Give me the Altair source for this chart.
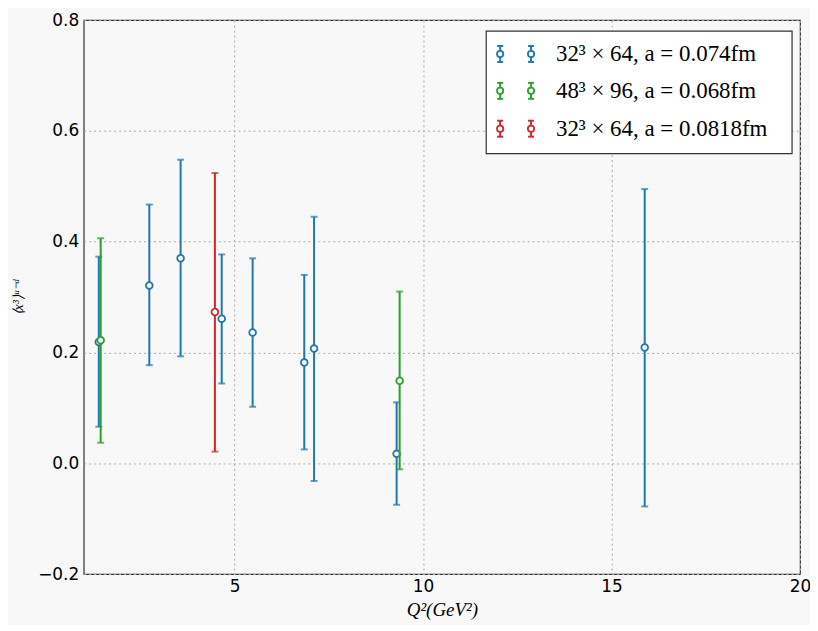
import altair as alt
import pandas as pd

# ---- data ----
series_names = ["32³ × 64, a = 0.074fm", "48³ × 96, a = 0.068fm", "32³ × 64, a = 0.0818fm"]
series_colors = ["#1f77b4", "#2ca02c", "#d62728"]

blue_q2 = [1.40, 2.74, 3.57, 4.66, 5.48, 6.85, 7.11, 9.30, 15.88]
blue_val = [0.219, 0.321, 0.370, 0.261, 0.236, 0.182, 0.207, 0.017, 0.209]
blue_lo = [0.066, 0.177, 0.193, 0.144, 0.102, 0.025, -0.032, -0.075, -0.078]
blue_hi = [0.373, 0.467, 0.548, 0.377, 0.370, 0.340, 0.445, 0.110, 0.495]

green_q2 = [1.45, 9.38]
green_val = [0.222, 0.149]
green_lo = [0.037, -0.011]
green_hi = [0.406, 0.310]

red_q2 = [4.48]
red_val = [0.273]
red_lo = [0.021]
red_hi = [0.524]

x_ticks = [5, 10, 15, 20]
y_ticks = [-0.2, 0.0, 0.2, 0.4, 0.6, 0.8]

rows = []
for name, q, v, lo, hi in [
    (series_names[0], blue_q2, blue_val, blue_lo, blue_hi),
    (series_names[1], green_q2, green_val, green_lo, green_hi),
    (series_names[2], red_q2, red_val, red_lo, red_hi),
]:
    for a, b, c, d in zip(q, v, lo, hi):
        rows.append({"series": name, "q2": a, "val": b, "lo": c, "hi": d})
df = pd.DataFrame(rows)

W, H = 719, 556
xs = alt.Scale(domain=[1, 20], nice=False, zero=False)
ys = alt.Scale(domain=[-0.2, 0.8], nice=False, zero=False)

x_enc = alt.X("q2:Q", scale=xs,
              axis=alt.Axis(values=x_ticks, title="Q²(GeV²)", format="d"))
y_enc_axis = alt.Y("val:Q", scale=ys,
                   axis=alt.Axis(values=y_ticks, format=".1f", title="⟨x³⟩ᵘ⁻ᵈ"))

layers = []
for name, col in zip(series_names, series_colors):
    sub = df[df.series == name]
    base = alt.Chart(sub)
    rule = base.mark_rule(color=col, strokeWidth=2).encode(
        x=alt.X("q2:Q", scale=xs), y=alt.Y("lo:Q", scale=ys), y2="hi:Q")
    cap_lo = base.mark_tick(color=col, size=7, thickness=2, orient="horizontal").encode(
        x=alt.X("q2:Q", scale=xs), y=alt.Y("lo:Q", scale=ys))
    cap_hi = base.mark_tick(color=col, size=7, thickness=2, orient="horizontal").encode(
        x=alt.X("q2:Q", scale=xs), y=alt.Y("hi:Q", scale=ys))
    pts = base.mark_point(shape="circle", filled=True, fill="white", stroke=col,
                          strokeWidth=1.8, size=45, opacity=1).encode(
        x=alt.X("q2:Q", scale=xs), y=alt.Y("val:Q", scale=ys))
    layers += [rule, cap_lo, cap_hi, pts]

# axes layer (invisible) carrying axis definitions
axes = alt.Chart(df).mark_point(opacity=0).encode(x=x_enc, y=y_enc_axis)

# ---- manual legend (matplotlib style, two glyphs per entry) ----
leg_box = alt.Chart(pd.DataFrame({"k": [0]})).mark_rect(
    fill="white", stroke="#333333", strokeWidth=1.2).encode(
    x=alt.value(404), x2=alt.value(711), y=alt.value(11), y2=alt.value(134))
legend_layers = [leg_box]
entry_y = [34, 71, 109]
glyph_x = [418, 449]
for name, col, ey in zip(series_names, series_colors, entry_y):
    d1 = pd.DataFrame({"label": [name]})
    for gx in glyph_x:
        legend_layers.append(alt.Chart(d1).mark_rule(color=col, strokeWidth=2).encode(
            x=alt.value(gx), y=alt.value(ey - 8), y2=alt.value(ey + 8)))
        for cy in (ey - 8, ey + 8):
            legend_layers.append(alt.Chart(d1).mark_rule(color=col, strokeWidth=2).encode(
                x=alt.value(gx - 3), x2=alt.value(gx + 3), y=alt.value(cy)))
        legend_layers.append(alt.Chart(d1).mark_point(
            shape="circle", filled=True, fill="white", stroke=col, strokeWidth=1.8,
            size=40, opacity=1).encode(x=alt.value(gx), y=alt.value(ey)))
    legend_layers.append(alt.Chart(d1).mark_text(
        align="left", baseline="middle", font="Liberation Serif", fontSize=23,
        color="black").encode(x=alt.value(474), y=alt.value(ey), text="label:N"))

chart = alt.layer(axes, *layers, *legend_layers).properties(
    width=W, height=H,
    autosize=alt.AutoSizeParams(type="none"),
    padding={"left": 76, "top": 11, "right": 10, "bottom": 50},
    background="#f8f8f8",
).configure_view(
    stroke="#333333", strokeWidth=1.2, fill="#f8f8f8"
).configure_axis(
    domain=False, ticks=False, labelFlush=False,
    grid=True, gridColor="#aaaaaa", gridDash=[2, 3], gridWidth=1,
    labelFont="DejaVu Sans", labelFontSize=17, labelColor="black", labelPadding=5,
    titleFont="Liberation Serif", titleFontWeight="normal", titleColor="black",
    titleFontStyle="italic",
).configure_axisX(
    titleFontSize=19, titlePadding=6
).configure_axisY(
    titleFontSize=14, titlePadding=12
)

chart.save("out.html", embed_options={"renderer": "svg", "actions": False})
